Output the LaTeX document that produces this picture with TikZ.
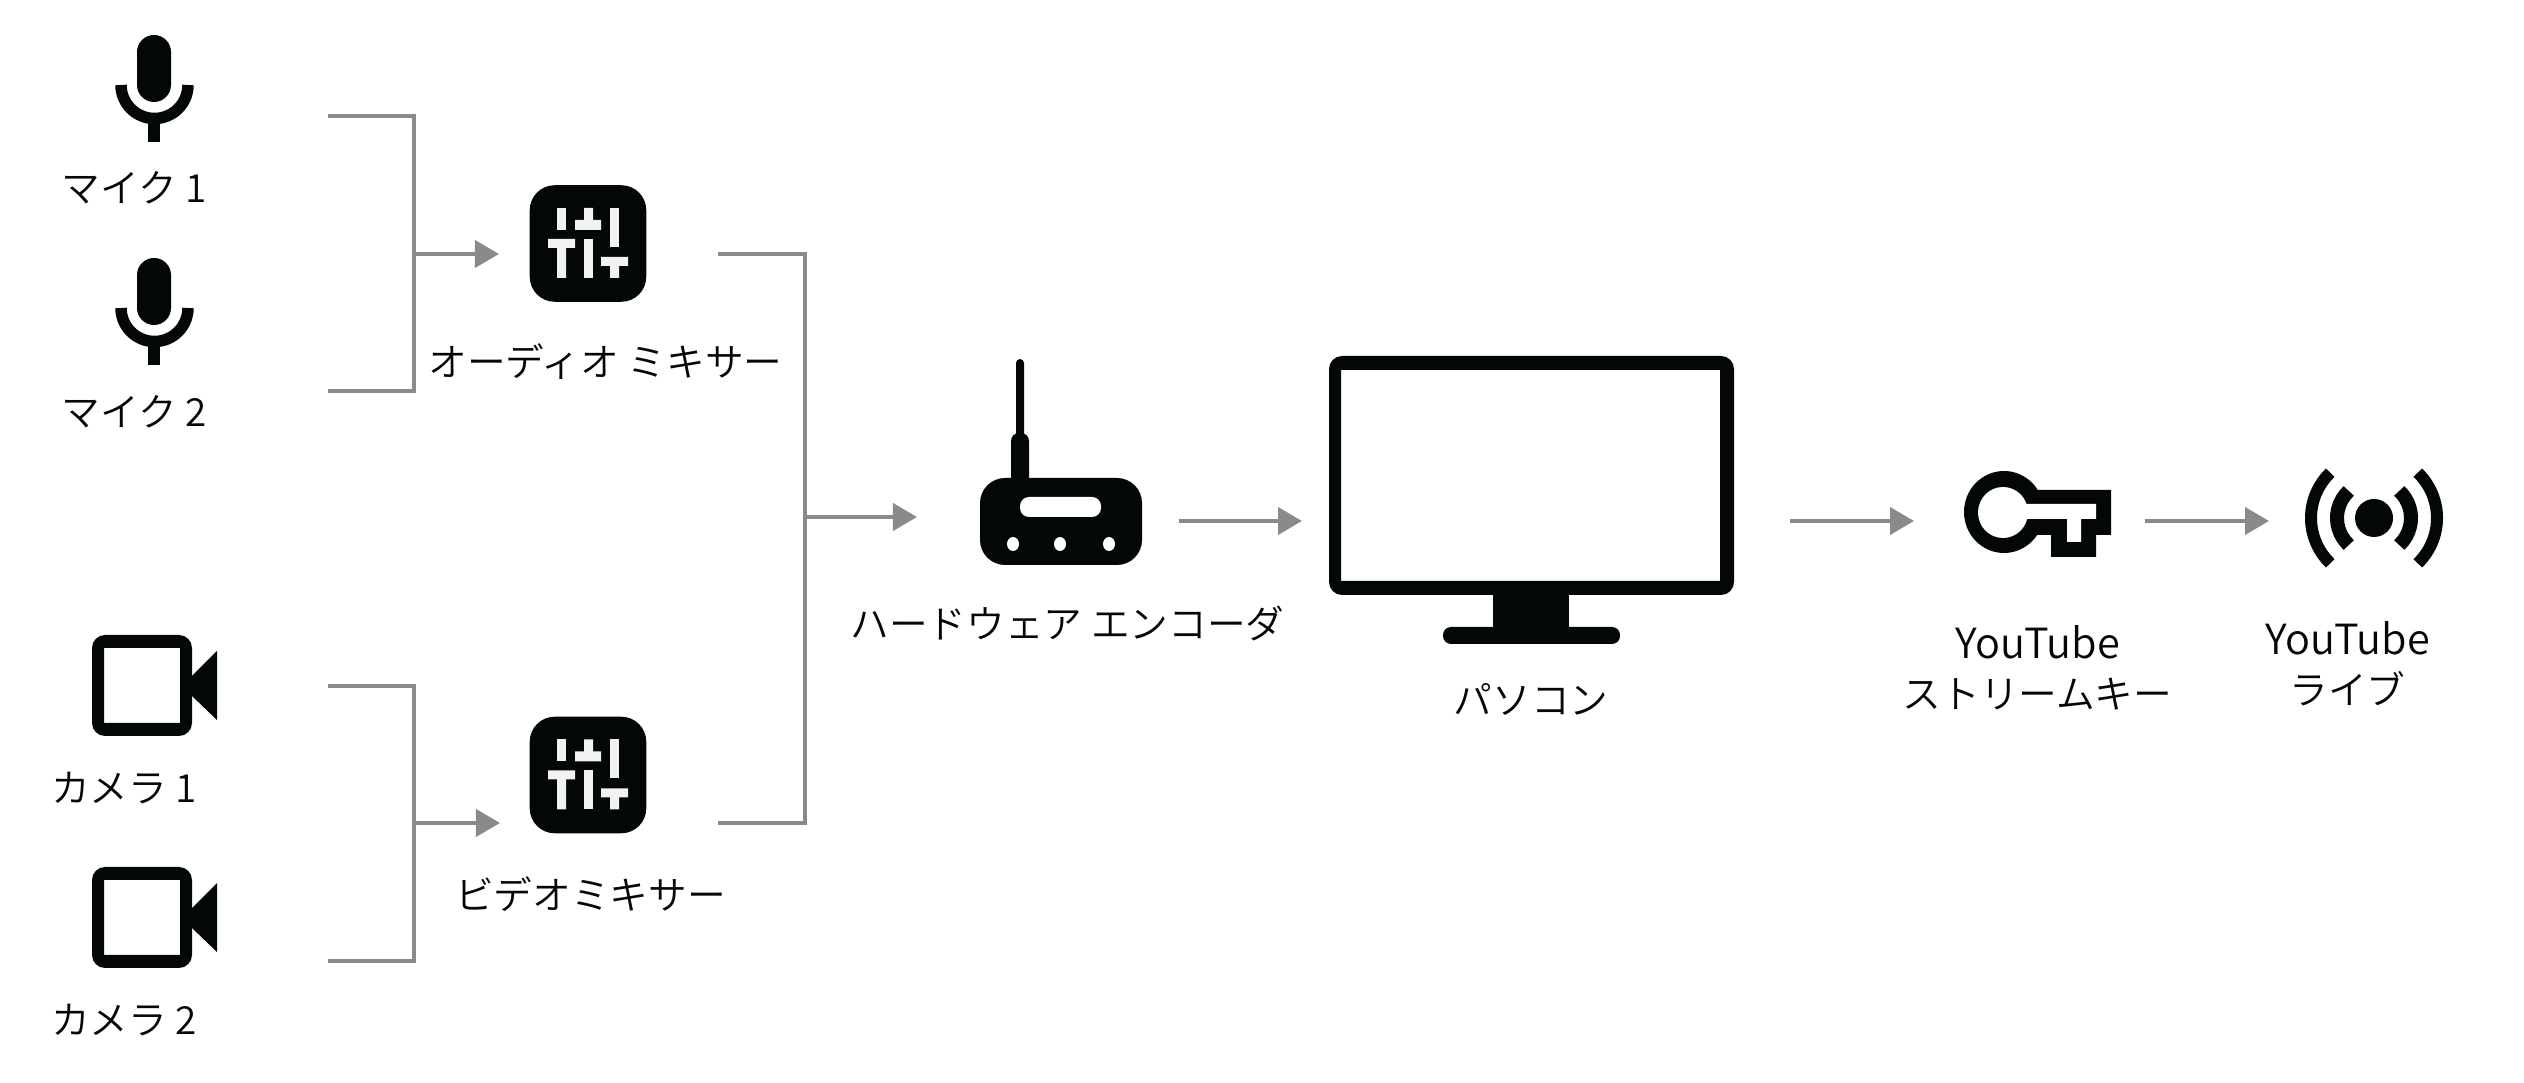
\documentclass[tikz,border=0pt]{standalone}
\usepackage{fontspec}
\usepackage{tikz}
\usetikzlibrary{arrows.meta, positioning}
\newfontfamily\jpfont{Noto Sans CJK JP DemiLight}
\definecolor{iconblack}{HTML}{030707}
\definecolor{conngray}{HTML}{8A8A8A}
\definecolor{slidergray}{HTML}{F2F2F2}
\newcommand{\ytword}{{\fontsize{11.8}{14.2}\selectfont YouTube}}
\tikzset{
	conn/.style={draw=conngray,line width=0.04cm},
	connarrow/.style={conn,-{Triangle[length=0.24cm,width=0.27cm]}},
	lbl/.style={font=\jpfont\fontsize{11}{14.2}\selectfont,inner sep=0,align=center,text=iconblack},
	mixerbox/.style={fill=iconblack,rounded corners=0.25cm,minimum size=1.165cm,inner sep=0},
}
\begin{document}
\begin{tikzpicture}[x=0.01cm,y=-0.01cm]
				\useasboundingbox (0,0) rectangle (2524,1083);

				% Draw the microphones
				\foreach \dy in {0,223}{
					\fill[iconblack,rounded corners=0.17cm] (137,35+\dy) rectangle (171,102+\dy);
					\draw[iconblack,line width=0.115cm] (121,85+\dy) arc[start angle=180,end angle=0,x radius=33.5,y radius=33.5];
					\fill[iconblack] (148,118+\dy) rectangle (160,142+\dy);
				}
				\node[lbl] (micalabel) at (134,188) {マイク 1};
				\node[lbl] (micblabel) at (134,412) {マイク 2};

				% Draw the cameras
				\foreach \dy in {0,232}{
					\fill[iconblack,even odd rule] [rounded corners=0.13cm] (92,635+\dy) rectangle (192,736+\dy) [sharp corners] (104,648+\dy) rectangle (180,723+\dy);
					\fill[iconblack] (192,676+\dy) -- (217,651+\dy) -- (217,720+\dy) -- (192,696+\dy) -- cycle;
				}
				\node[lbl] (camalabel) at (124,788) {カメラ 1};
				\node[lbl] (camblabel) at (124,1020) {カメラ 2};

				% Draw the two mixers
				\node[mixerbox] (mixa) at (588,243.5) {};
				\node[mixerbox] (mixb) at (588,775) {};
				\foreach \m in {mixa,mixb}{
					\begin{scope}[shift={(\m.center)},shift={(-588,-243.5)}]
						\fill[slidergray] (557,208) rectangle (566,230);
						\fill[slidergray] (584,208) rectangle (593,220) (575,220) rectangle (601,230);
						\fill[slidergray] (610,208) rectangle (619,247);
						\fill[slidergray] (548,239) rectangle (575,248) (557,248) rectangle (566,278);
						\fill[slidergray] (584,239) rectangle (593,278);
						\fill[slidergray] (601,257) rectangle (628,266) (610,266) rectangle (619,278);
					\end{scope}
				}
				\node[lbl] (mixalabel) at (605.5,362) {オーディオ ミキサー};
				\node[lbl] (mixblabel) at (590.5,894) {ビデオミキサー};

				% Draw the encoder
				\fill[iconblack,rounded corners=0.04cm] (1016,359) rectangle (1024,440);
				\fill[iconblack,rounded corners=0.08cm] (1011,433) rectangle (1029,485);
				\fill[iconblack,rounded corners=0.25cm] (980,478) rectangle (1142,565);
				\fill[white,rounded corners=0.09cm] (1020,497) rectangle (1101,517);
				\foreach \x in {1013,1060,1109}
					\fill[white] (\x,544) ellipse (6 and 7);
				\node[lbl] (enclabel) at (1067.5,623) {ハードウェア エンコーダ};

				% Draw the monitor
				\fill[iconblack,even odd rule] [rounded corners=0.13cm] (1329,356) rectangle (1734,595) [sharp corners] (1341,370) rectangle (1720,581);
				\fill[iconblack] (1493,590) rectangle (1569,630);
				\fill[iconblack,rounded corners=0.08cm] (1443,627) rectangle (1620,644);
				\node[lbl] (pclabel) at (1531,699) {パソコン};

				% Draw the key
				\fill[iconblack] (2004,512) ellipse (40 and 41);
				\fill[iconblack] (2030,490) -- (2111,490) -- (2111,535) -- (2096,535) -- (2096,557) -- (2051,557) -- (2051,535) -- (2030,535) -- cycle;
				\fill[white] (2003,512.5) ellipse (25 and 25.5);
				\fill[white] (2020,504) -- (2096,504) -- (2096,519) -- (2081,519) -- (2081,542) -- (2067,542) -- (2067,519) -- (2020,519) -- cycle;
				\node[lbl] (keylabel) at (2037.5,668) {\ytword\\ストリームキー};

				% Draw the live symbol
				\coordinate (live) at (2374,518);
				\fill[iconblack] (live) circle (19);
				\foreach \a in {0,180}{
					\draw[iconblack,line width=0.12cm] (live) ++(\a-46:63) arc[start angle=\a-46,end angle=\a+46,radius=63];
					\draw[iconblack,line width=0.14cm] (live) ++(\a-47:37) arc[start angle=\a-47,end angle=\a+47,radius=37];
				}
				\node[lbl] (livelabel) at (2347.5,664) {\ytword\\ライブ};

				% Free ends of the connectors
				\coordinate (micaend) at (328,116);
				\coordinate (micbend) at (328,391);
				\coordinate (micjoin) at (414,254);
				\coordinate (mixain) at (499,254);
				\coordinate (camaend) at (328,686);
				\coordinate (cambend) at (328,961);
				\coordinate (camjoin) at (414,823);
				\coordinate (mixbin) at (500,823);
				\coordinate (mixaout) at (718,254);
				\coordinate (mixbout) at (718,823);
				\coordinate (mixjoin) at (805,517);
				\coordinate (encin) at (917,517);
				\coordinate (encout) at (1179,521);
				\coordinate (pcin) at (1302,521);
				\coordinate (pcout) at (1790,521);
				\coordinate (keyin) at (1914,521);
				\coordinate (keyout) at (2145,521);
				\coordinate (livein) at (2269,521);

				% Draw the brackets and arrows
				\draw[conn] (micaend) -| (micjoin);
				\draw[conn] (micbend) -| (micjoin);
				\draw[connarrow] (micjoin) -- (mixain);
				\draw[conn] (camaend) -| (camjoin);
				\draw[conn] (cambend) -| (camjoin);
				\draw[connarrow] (camjoin) -- (mixbin);
				\draw[conn] (mixaout) -| (mixjoin);
				\draw[conn] (mixbout) -| (mixjoin);
				\draw[connarrow] (mixjoin) -- (encin);
				\draw[connarrow] (encout) -- (pcin);
				\draw[connarrow] (pcout) -- (keyin);
				\draw[connarrow] (keyout) -- (livein);
			\end{tikzpicture}
\end{document}
